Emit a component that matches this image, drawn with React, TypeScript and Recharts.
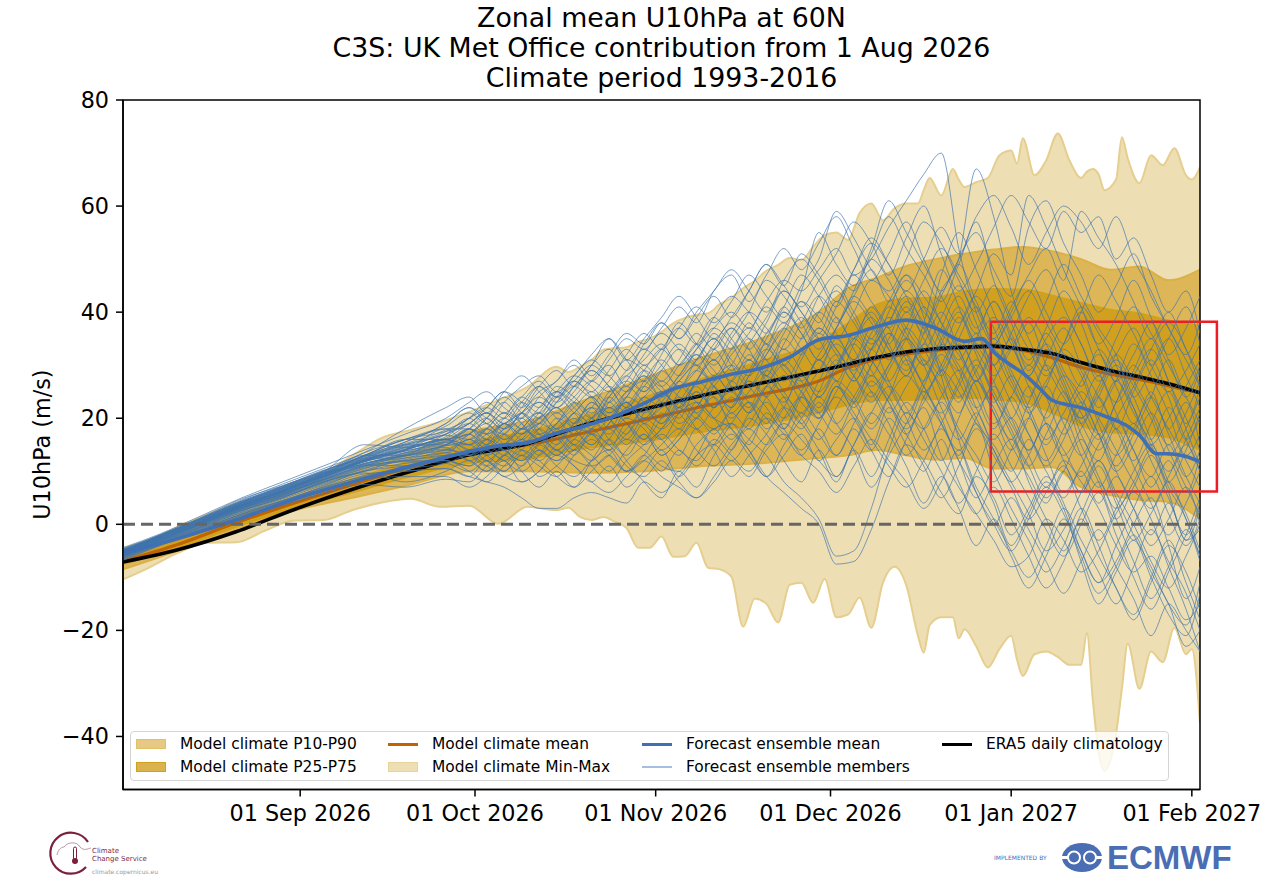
import { ComposedChart, Area, Line, XAxis, YAxis, ReferenceLine, ReferenceArea } from 'recharts';

// x values are days since 1 Aug 2026
const tickDays = [31, 61, 92, 122, 153, 184];
const tickLabels = ['01 Sep 2026', '01 Oct 2026', '01 Nov 2026', '01 Dec 2026', '01 Jan 2027', '01 Feb 2027'];
const yTicks = [-40, -20, 0, 20, 40, 60, 80];

const minMaxDays = [
  0.6, 5, 10, 15, 20, 25, 30, 35, 40, 45, 50, 55, 60, 65, 70, 75,
  77, 79, 81, 83, 85, 87, 89, 91, 93, 95, 97, 99, 101, 103, 105, 107, 109, 111, 113, 115, 117, 119, 121, 123, 125, 127, 129, 131, 133, 135,
  137, 138, 139, 141, 143, 144, 145, 147, 149, 151, 153, 154, 155, 157, 159, 161, 163, 165, 166, 167, 168, 169, 171, 172, 173, 175, 177, 179, 181, 183, 184, 185.4,
];
const climateMax = [
  -4.5, -3, -0.5, 1.8, 4, 5.3, 7.8, 9.7, 13, 16.3, 17.8, 19.3, 21.2, 23.4, 25.9, 29.7,
  28.7, 29.7, 31, 32.9, 33.2, 33.4, 34.4, 35, 36.3, 37.9, 38.9, 39.5, 39.8, 41.5, 42.7, 44.5, 45.9, 47.8, 48.9, 50.2, 49.8, 52.3, 54.5, 55, 53.6, 58.7, 60.5, 57.3, 59.6, 60.5,
  60.5, 63, 65.3, 62, 67, 65, 63.6, 64.5, 65.3, 69.6, 70.5, 68, 72.8, 65.8, 68.6, 73.7, 68.6, 65.3, 66.5, 67, 66, 63, 65, 73, 69, 64.3, 69.6, 67.7, 70.9, 65.8, 65, 67.3,
];
const climateMin = [
  -10.4, -8.2, -5.4, -3.5, -3.4, -1.2, 0.7, 0.8, 2.7, 4.1, 4.8, 3.3, 3.5, 0.1, 3.3, 2.7,
  3.1, 1.4, 0.8, 1.4, 0.5, -0.7, -4.4, -4.4, -2.3, -6.1, -6, -3.5, -8.2, -8.5, -9.9, -19.3, -14, -15, -18.5, -11.4, -11, -14.8, -10.3, -17.5, -17, -13.8, -19.5, -11, -8, -11.5,
  -21, -24.2, -19, -17.5, -17.5, -21.5, -19.8, -23, -27, -23.5, -21, -25.5, -28.6, -24.5, -24, -25, -26.5, -26.5, -20.5, -33, -43, -46.5, -39.5, -31, -22.5, -31, -24, -26, -19.5, -24.5, -23.5, -37.5,
];

const climateDays = [0.6, 10, 20, 30, 40, 50, 60, 70, 80, 90, 100, 110, 120, 125, 130, 135, 140, 145, 150, 155, 160, 165, 170, 175, 180, 185.4];
const p90 = [-5.5, -2, 2.3, 6.5, 10, 13.5, 17.5, 19.5, 23.5, 27.5, 31.5, 35, 40, 44.5, 46.5, 48.7, 50, 51, 51.8, 52.3, 51.5, 50, 48, 48.6, 46, 48];
const p10 = [-8.5, -5, -1, 2.6, 5, 7.5, 10, 10, 9.7, 10, 11, 11.5, 12.5, 13, 14, 13, 12.2, 12.5, 10.5, 10.5, 10.8, 7, 5.5, 4.6, 4.2, 1];
const p75 = [-6, -3, 1.5, 5, 8.5, 12, 15.5, 17.5, 20.5, 24, 27.5, 30.8, 34.5, 38, 41.5, 42.6, 42.8, 44, 44.4, 44.3, 43.2, 41.8, 40.5, 39.8, 38.5, 37.5];
const p25 = [-7.5, -4.5, -0.5, 3, 6, 9, 11.5, 12.3, 14.3, 15.6, 17.4, 18.8, 21, 22.5, 23.4, 23.4, 23.6, 23.8, 23.5, 23, 21, 18.5, 17.3, 17, 16.3, 14];
const climateMean = [-6.9, -3.8, 0.3, 4, 7.5, 10.8, 13.5, 15, 17.3, 19.7, 22.2, 24.5, 27, 29.5, 31.2, 32.1, 32.8, 33.2, 33.4, 32.8, 31.4, 29.6, 28.3, 27.3, 26.1, 24.8];
const era5 = [-7.1, -4.8, -1.4, 2.8, 6.6, 10, 13.1, 15.2, 18.8, 21.7, 24.3, 26.6, 28.9, 30.2, 31.5, 32.5, 33.1, 33.4, 33.6, 33, 32.2, 30.5, 29, 27.8, 26.5, 24.8];

const forecastDays = [0.6, 10, 20, 30, 40, 50, 60, 65, 70, 75, 80, 85, 90, 95, 100, 105, 110, 115, 120, 125, 130, 135, 140, 145, 148, 150, 153, 155, 158, 160, 165, 170, 173, 175, 178, 180, 183, 185.4];
const forecastMean = [-5.5, -2.7, 0.8, 4.7, 8, 11, 13.7, 14.8, 15.4, 17.2, 18.6, 20.4, 22.8, 25.5, 26.9, 28.3, 29.4, 31.5, 34.8, 35.6, 37.3, 38.5, 37, 34.5, 35, 32.5, 30, 28.5, 25.5, 23.4, 22, 20, 18.5, 16.8, 13.3, 13.3, 12.8, 11.8];

const memberDays = [
  0.6, 7, 14, 21, 28, 35, 42, 49, 56,
  60, 63, 66, 69, 72, 75, 78, 81, 84, 87, 90, 93, 96, 99, 102, 105, 108, 111, 114, 117, 120, 123, 126, 129, 132,
  135, 138, 141, 144, 147, 150, 153, 156, 159, 162, 165, 168, 171, 174, 177, 180, 183, 185.4,
];
const members = [
  [-5.2, -2.4, 0.6, 3.8, 6.5, 9.5, 13, 16, 18, 18, 17, 19, 21, 23, 21, 24, 27, 25, 28, 31, 34, 30, 33, 37, 40, 37, 42, 46, 44, 48, 52, 47, 50, 56, 61, 66, 70, 52, 40, 33, 26, 22, 27, 32, 28, 19, 13, 18, 24, 17, 9, 4],
  [-5.6, -3, 0, 3, 6, 8.5, 11, 12, 13, 13, 14, 12, 15, 16, 14, 12, 11, 13, 16, 14, 11, 10, 15, 18, 19, 16, 13, 8, 5, 1, -6, -5, 3, 14, 21, 18, 24, 29, 22, 16, 20, 13, 7, 12, 8, 3, -4, -9, -6, -12, -18, -15],
  [-6, -3.3, -0.4, 2.6, 5, 8, 10, 11.5, 12, 11, 13, 15, 14, 12, 15, 18, 17, 14, 17, 20, 18, 21, 23, 20, 18, 14, 9, 6, 3, 0, -7.5, -7, -1, 8, 15, 12, 6, 2, 9, 5, -2, 3, 9, 4, -5, -11, -7, 0, 5, -4, -14, -8],
  [-6.3, -3.6, -0.8, 2, 4.5, 7, 9.5, 10, 10.5, 9, 8, 7, 5, 3, 3, 5, 6, 5, 4, 8, 6, 9, 13, 15, 12, 16, 20, 17, 13, 19, 24, 20, 14, 9, 16, 22, 13, 7, 2, -3, -8, -6, 1, -3, -9, -5, 2, 6, 1, -8, -16, -24],
  [-5.8, -3.1, 0.2, 3.3, 5.8, 8.6, 11.5, 12.5, 14, 13, 11, 13, 16, 14, 12, 14, 17, 15, 11, 9, 12, 8, 5, 9, 14, 18, 15, 20, 24, 21, 17, 23, 28, 24, 19, 26, 32, 27, 20, 14, 8, 13, 19, 12, 6, 11, 4, -3, 2, 8, 1, -6],
  [-4.8, -2.1, 1, 4.2, 7, 9.9, 15, 14.5, 16, 17, 19, 16, 18, 22, 25, 23, 20, 24, 27, 25, 29, 33, 30, 27, 32, 36, 41, 38, 44, 55, 49, 45, 51, 58, 52, 47, 42, 49, 57, 46, 38, 31, 37, 44, 38, 29, 23, 28, 33, 27, 18, 11],
  [-5, -2.2, 0.9, 4, 6.8, 9.6, 12.5, 15, 17, 19, 21, 19, 22, 26, 24, 27, 30, 28, 32, 36, 33, 37, 41, 38, 42, 47, 43, 39, 45, 50, 59, 54, 48, 44, 50, 57, 53, 46, 40, 45, 39, 33, 28, 34, 41, 36, 30, 22, 15, 20, 26, 31],
  [-5.4, -2.7, 0.4, 3.5, 6.2, 9, 12, 14, 16, 15, 17, 20, 18, 20, 23, 26, 24, 27, 31, 29, 26, 30, 34, 39, 35, 31, 36, 41, 47, 43, 38, 44, 52, 61, 55, 49, 43, 38, 44, 51, 47, 62, 56, 48, 41, 34, 39, 46, 39, 32, 37, 43],
  [-5.1, -2.5, 0.5, 3.6, 6.4, 9.2, 13, 13, 15, 18, 16, 14, 17, 19, 22, 19, 22, 26, 23, 21, 24, 28, 32, 29, 25, 29, 34, 30, 27, 32, 37, 42, 38, 33, 29, 36, 44, 50, 67, 58, 44, 36, 42, 49, 43, 37, 32, 24, 29, 35, 28, 22],
  [-5.5, -2.8, 0.1, 3.1, 5.5, 8.2, 11, 13.5, 15.5, 14, 12, 15, 18, 16, 13, 16, 20, 22, 19, 16, 20, 24, 21, 18, 22, 27, 24, 20, 25, 31, 27, 23, 30, 36, 32, 26, 21, 27, 34, 30, 23, 17, 12, 18, 25, 20, 14, 8, 3, 9, 15, 10],
  [-5.9, -3.2, -0.2, 2.8, 5.3, 7.8, 10.5, 12.5, 13.5, 16, 14, 12, 10, 13, 17, 15, 12, 16, 20, 18, 14, 17, 22, 26, 21, 25, 29, 25, 20, 16, 22, 28, 33, 27, 20, 14, 19, 26, 31, 24, 18, 11, 17, 23, 15, 8, 1, 7, 13, 6, -3, -1],
  [-4.9, -2.3, 0.8, 3.9, 6.7, 9.4, 12, 14.5, 16.5, 20, 22, 20, 23, 21, 25, 28, 26, 23, 27, 32, 36, 33, 30, 34, 38, 35, 31, 36, 42, 39, 35, 40, 46, 43, 37, 33, 39, 45, 38, 30, 36, 43, 48, 41, 34, 28, 35, 41, 36, 30, 24, 19],
  [-5.3, -2.6, 0.3, 3.4, 6, 8.8, 11.5, 13, 14.5, 12, 14, 17, 15, 18, 16, 19, 22, 20, 17, 22, 19, 23, 27, 24, 20, 23, 18, 22, 28, 25, 30, 35, 40, 34, 28, 38, 48, 41, 32, 25, 19, 14, 21, 28, 24, 17, 10, 15, 21, 14, 7, 2],
  [-6.2, -3.5, -0.6, 2.3, 4.8, 7.4, 10, 11, 12.5, 14, 12, 10, 13, 11, 9, 13, 16, 13, 10, 13, 17, 14, 12, 16, 13, 10, 15, 19, 16, 12, 9, 15, 21, 26, 22, 16, 10, 4, 10, 17, 11, 5, -1, -6, 0, 6, -2, -10, -16, -9, -2, 5],
  [-5.7, -2.9, 0, 3.2, 5.7, 8.4, 11.2, 13.2, 15, 17, 15, 18, 20, 17, 19, 22, 25, 22, 25, 27, 24, 27, 31, 35, 31, 28, 33, 38, 35, 40, 44, 39, 34, 38, 44, 40, 36, 32, 27, 33, 27, 21, 26, 33, 29, 22, 27, 34, 28, 21, 13, 17],
  [-4.7, -2, 1.2, 4.4, 7.2, 10, 13.5, 16, 18.5, 21, 19, 23, 26, 28, 25, 28, 32, 35, 31, 35, 39, 43, 39, 35, 39, 44, 49, 45, 41, 46, 51, 57, 53, 47, 54, 60, 51, 44, 49, 56, 62, 57, 52, 59, 55, 58, 50, 54, 47, 40, 44, 36],
  [-5.5, -2.7, 0.2, 3.3, 5.9, 8.7, 11.8, 13.8, 15.8, 18, 20, 17, 15, 18, 21, 18, 15, 19, 23, 20, 23, 19, 22, 27, 30, 26, 22, 18, 24, 29, 34, 30, 25, 19, 13, 18, 23, 17, 11, 4, -4, 2, 8, 3, -7, -15, -9, -3, -10, -17, -21, -13],
  [-5.2, -2.5, 0.7, 3.7, 6.3, 9.1, 12.3, 14.2, 16.8, 16, 18, 21, 19, 16, 19, 23, 27, 30, 26, 30, 27, 31, 36, 33, 37, 33, 28, 34, 39, 35, 41, 47, 42, 37, 31, 25, 30, 37, 43, 37, 29, 24, 31, 37, 30, 24, 18, 12, 19, 25, 19, 26],
  [-6.1, -3.4, -0.5, 2.5, 5.1, 7.6, 10.2, 11.8, 11.5, 10, 12, 9, 11, 14, 11, 9, 12, 14, 10, 12, 15, 18, 14, 11, 15, 19, 23, 18, 14, 18, 13, 19, 25, 21, 26, 31, 25, 18, 13, 8, 14, 20, 13, 6, 11, 17, 10, 3, -4, 1, 7, 0],
  [-5, -2.4, 0.6, 3.7, 6.4, 9.3, 12.4, 14.8, 17, 19, 17, 20, 24, 22, 26, 24, 21, 25, 29, 33, 30, 26, 29, 33, 29, 34, 39, 44, 40, 36, 42, 38, 33, 40, 47, 43, 38, 31, 36, 28, 33, 39, 34, 27, 20, 25, 31, 26, 20, 13, 18, 24],
  [-5.6, -2.8, 0.1, 3, 5.6, 8.3, 11, 12.8, 14.2, 13, 15, 13, 16, 19, 17, 14, 18, 22, 19, 15, 18, 22, 26, 22, 27, 24, 29, 33, 29, 24, 29, 34, 29, 23, 17, 24, 29, 35, 28, 21, 15, 9, 4, 10, 3, -3, 3, 10, 15, 8, 2, -5],
  [-4.9, -2.2, 0.9, 4.1, 6.9, 9.8, 13, 15.5, 19, 22, 20, 18, 21, 25, 27, 31, 28, 32, 36, 34, 38, 35, 40, 44, 48, 44, 40, 46, 50, 46, 41, 48, 54, 49, 43, 37, 43, 50, 55, 48, 43, 56, 61, 53, 47, 40, 45, 51, 43, 37, 31, 26],
  [-5.8, -3, -0.1, 2.9, 5.4, 8, 10.8, 12.2, 13.5, 12, 10, 13, 11, 14, 12, 15, 13, 10, 14, 17, 13, 16, 20, 17, 21, 18, 24, 28, 23, 20, 25, 31, 26, 30, 35, 30, 22, 16, 21, 14, 8, 2, -5, -1, 6, 12, 5, -2, -8, -15, -19, -11],
  [-5.3, -2.5, 0.4, 3.4, 6.1, 8.9, 11.9, 14, 16, 15, 18, 16, 19, 21, 18, 21, 24, 21, 24, 28, 25, 23, 27, 31, 27, 32, 28, 25, 31, 36, 32, 27, 33, 39, 35, 30, 35, 41, 36, 39, 34, 28, 33, 26, 19, 24, 18, 25, 31, 24, 16, 20],
  [-5, -2.3, 0.7, 3.9, 6.6, 9.5, 12.7, 15, 17.5, 20, 22, 25, 23, 20, 24, 27, 25, 29, 33, 30, 33, 37, 34, 39, 43, 40, 36, 41, 37, 43, 47, 44, 50, 46, 40, 46, 52, 47, 41, 35, 41, 47, 52, 46, 59, 54, 49, 42, 35, 40, 33, 28],
  [-6.4, -3.7, -0.9, 1.9, 4.3, 6.8, 9.2, 10.5, 11.5, 13, 11, 9, 8, 10, 13, 11, 8, 6, 9, 12, 9, 7, 5, 8, 12, 9, 14, 17, 13, 10, 6, 11, 16, 12, 8, 3, 8, 14, 7, 1, -5, -10, -4, 3, -3, -9, -15, -8, -1, -7, -13, -20],
  [-5.4, -2.6, 0.5, 3.5, 6.1, 9, 12.1, 14.4, 15.4, 17, 14, 17, 20, 23, 20, 17, 20, 24, 21, 24, 27, 24, 21, 26, 30, 35, 31, 27, 32, 37, 33, 28, 23, 29, 35, 41, 35, 29, 22, 27, 33, 26, 20, 25, 17, 12, 18, 11, 4, -2, 4, 10],
  [-5.7, -2.9, 0.2, 3.2, 5.8, 8.5, 11.4, 12.9, 14.8, 16, 18, 15, 13, 16, 18, 15, 18, 15, 18, 22, 25, 21, 18, 22, 25, 21, 26, 22, 18, 23, 19, 24, 30, 36, 30, 34, 40, 33, 26, 19, 24, 30, 24, 17, 22, 28, 21, 14, 9, 15, 9, 14],
  [-5.1, -2.4, 0.6, 3.6, 6.3, 9.2, 12.2, 14.6, 16.2, 19, 21, 18, 21, 24, 22, 25, 29, 26, 22, 26, 30, 34, 31, 36, 33, 38, 34, 40, 36, 31, 37, 43, 48, 42, 46, 41, 34, 29, 35, 42, 36, 30, 36, 29, 23, 17, 23, 30, 24, 18, 12, 7],
  [-5.9, -3.1, -0.3, 2.7, 5.2, 7.9, 10.6, 12, 13, 14, 16, 14, 12, 15, 13, 16, 14, 18, 15, 19, 16, 13, 18, 15, 19, 23, 20, 16, 21, 17, 13, 18, 14, 20, 15, 10, 16, 8, 2, 7, 1, -6, -12, -7, 1, -6, -12, -18, -11, -4, -9, -16],
  [-5.2, -2.6, 0.4, 3.5, 6.2, 9, 12, 13.8, 15.6, 18, 16, 19, 17, 20, 24, 21, 18, 23, 26, 23, 20, 25, 29, 26, 23, 28, 32, 37, 33, 29, 35, 31, 37, 32, 37, 33, 28, 34, 29, 23, 28, 22, 16, 21, 27, 32, 26, 19, 25, 18, 23, 15],
  [-5.6, -2.8, 0.2, 3.1, 5.7, 8.4, 11.3, 13.4, 14.9, 15, 13, 15, 18, 21, 18, 20, 17, 20, 23, 20, 22, 26, 23, 20, 24, 21, 26, 31, 27, 22, 27, 24, 19, 24, 28, 24, 19, 14, 20, 26, 20, 14, 19, 14, 9, 15, 20, 14, 7, 12, 6, 13],
  [-4.8, -2.2, 0.9, 4, 6.9, 9.7, 12.8, 15.2, 17.8, 20, 23, 21, 24, 27, 24, 28, 31, 28, 25, 29, 33, 30, 34, 31, 36, 40, 37, 33, 38, 43, 39, 35, 41, 37, 42, 38, 33, 39, 34, 30, 35, 29, 35, 39, 34, 27, 32, 37, 30, 25, 29, 34],
  [-5.3, -2.5, 0.5, 3.6, 6.2, 9.1, 12.1, 14.1, 16.1, 14, 16, 19, 16, 19, 22, 19, 23, 20, 24, 22, 19, 23, 20, 25, 22, 27, 24, 28, 25, 21, 26, 22, 27, 23, 18, 23, 29, 25, 19, 15, 10, 16, 10, 5, 10, 4, 9, 3, -2, 4, -3, 3],
  [-4.4, -1.8, 1.6, 5, 8, 11, 14, 17, 20, 23, 25, 22, 20, 24, 27, 30, 27, 31, 35, 33, 37, 41, 38, 44, 47, 42, 47, 52, 48, 53, 58, 52, 46, 51, 57, 50, 44, 49, 42, 36, 42, 35, 29, 34, 40, 33, 27, 32, 38, 31, 24, 29],
  [-6.8, -4, -1.2, 1.4, 3.6, 5.8, 7.5, 7, 8.5, 8, 11, 14, 10, 7, 10, 7, 12, 16, 12, 8, 5, 10, 7, 13, 17, 13, 9, 15, 20, 24, 19, 14, 7, 13, 19, 25, 19, 12, 5, 11, 16, 8, 1, -5, 2, 8, 1, -7, -14, -8, -1, -7],
  [-5, -2, 1.2, 4.6, 7.6, 10.5, 13.5, 18, 22, 24, 21, 25, 28, 25, 22, 26, 30, 35, 31, 27, 32, 38, 34, 30, 35, 40, 46, 43, 38, 33, 39, 33, 28, 35, 41, 36, 47, 55, 48, 40, 33, 38, 30, 24, 20, 26, 32, 27, 21, 15, 21, 27],
  [-6.5, -3.8, -1, 1.6, 4, 6.5, 8.5, 9, 9, 7, 9, 12, 8, 10, 14, 11, 8, 11, 7, 10, 14, 9, 13, 18, 14, 20, 17, 12, 8, 14, 9, 15, 21, 17, 11, 4, 9, 3, -4, 1, -6, -12, -6, 1, -5, -11, -4, 3, 9, 2, -4, 1],
  [-5.1, -2.3, 1, 4.4, 7.2, 10.2, 12.5, 15.5, 19, 22, 19, 17, 21, 19, 23, 27, 24, 20, 24, 29, 26, 22, 27, 33, 37, 33, 38, 44, 40, 35, 30, 36, 31, 26, 21, 27, 34, 40, 33, 27, 20, 26, 19, 13, 18, 24, 30, 24, 16, 10, 16, 22],
  [-5.9, -3.1, 0, 2.6, 5, 8, 10, 12, 12, 11, 15, 18, 21, 17, 14, 18, 23, 20, 16, 21, 25, 22, 27, 31, 26, 22, 28, 24, 19, 25, 31, 27, 33, 38, 43, 37, 30, 24, 29, 35, 28, 21, 15, 20, 13, 7, 13, 19, 12, 5, -2, 4],
  [-5, -2.1, 1.1, 4.3, 7, 10, 13, 16, 17.5, 19, 22, 25, 22, 26, 29, 26, 30, 33, 29, 34, 38, 35, 39, 43, 39, 44, 49, 45, 51, 47, 42, 48, 53, 49, 44, 50, 56, 51, 58, 62, 56, 49, 55, 60, 57, 52, 58, 50, 44, 37, 32, 38],
  [-5.3, -2.6, 0.6, 3.7, 6.6, 9.4, 12, 13, 16, 13, 16, 14, 12, 15, 18, 21, 24, 21, 25, 28, 24, 28, 32, 28, 33, 37, 34, 30, 35, 40, 36, 31, 36, 42, 47, 39, 28, 16, 6, 0, -5, 1, 7, 2, -6, -13, -8, -2, -9, -15, -23, -20],
  [-6, -3.3, -0.5, 2.2, 4.5, 7, 9, 10, 10.5, 9, 12, 10, 13, 9, 11, 14, 11, 8, 12, 15, 18, 22, 18, 14, 9, 13, 17, 22, 19, 14, 8, 14, 9, 16, 23, 18, 12, 20, 27, 21, 14, 20, 26, 19, 13, 20, 27, 21, 15, 8, 14, 21],
  [-5.5, -2.7, 0.4, 3.6, 6.3, 9.6, 12.8, 15, 15, 18, 15, 19, 17, 20, 17, 21, 19, 23, 20, 24, 22, 27, 24, 28, 25, 31, 28, 35, 32, 37, 33, 29, 35, 31, 37, 44, 38, 33, 27, 33, 39, 44, 38, 32, 26, 33, 28, 22, 16, 22, 16, 10],
  [-4.6, -2, 1.3, 4.8, 7.3, 9.8, 11, 13, 14, 17, 20, 23, 19, 16, 20, 18, 15, 19, 23, 19, 23, 27, 30, 26, 22, 28, 33, 29, 25, 20, 26, 23, 18, 24, 31, 26, 20, 13, 19, 10, 3, -3, -9, -4, 3, -4, -12, -17, -10, -3, -11, -18],
  [-6.6, -3.9, -1.1, 1.7, 4.2, 7.2, 9.7, 8, 10, 12, 10, 13, 16, 13, 16, 13, 17, 14, 19, 16, 21, 18, 23, 20, 16, 21, 26, 30, 26, 31, 27, 34, 39, 33, 28, 34, 29, 23, 30, 24, 17, 11, 5, 10, 16, 9, 3, 8, 14, 7, 1, -6],
  [-5.2, -2.4, 0.7, 4, 6.8, 9, 11.8, 14, 18, 15, 18, 21, 18, 21, 25, 22, 19, 24, 28, 25, 29, 26, 31, 35, 30, 26, 32, 37, 42, 38, 45, 40, 35, 41, 36, 30, 37, 43, 37, 42, 35, 28, 34, 28, 21, 16, 23, 29, 35, 27, 20, 14],
  [-5.7, -3, 0.1, 3, 5.4, 8.8, 11.2, 11, 13, 16, 13, 11, 14, 17, 14, 17, 20, 16, 13, 17, 13, 16, 20, 24, 18, 14, 9, 13, 17, 12, 16, 20, 15, 22, 17, 11, 5, 11, 18, 13, 7, 1, 6, 11, 6, 12, 6, 0, -7, -12, -6, 0],
  [-5.6, -2.9, 0.3, 3.4, 6.2, 9.4, 12.3, 14, 17, 20, 17, 15, 18, 16, 19, 23, 20, 17, 22, 26, 23, 20, 25, 22, 27, 31, 27, 23, 28, 24, 30, 35, 31, 27, 32, 27, 34, 30, 24, 18, 24, 17, 11, 16, 23, 17, 11, 17, 24, 31, 25, 30],
  [-4.9, -2.1, 1, 4.2, 7.2, 10.1, 12.9, 16, 16, 18, 21, 19, 23, 26, 23, 26, 29, 26, 22, 27, 31, 28, 33, 37, 34, 29, 35, 40, 36, 31, 37, 43, 39, 34, 40, 35, 29, 35, 41, 34, 40, 46, 40, 34, 40, 47, 42, 36, 30, 35, 41, 34],
  [-6.2, -3.5, -0.7, 1.9, 4.4, 6.7, 8.8, 10.3, 12, 10, 8, 11, 14, 12, 9, 7, 10, 13, 10, 13, 10, 14, 11, 15, 19, 15, 21, 18, 24, 20, 26, 21, 16, 11, 7, 12, 18, 12, 6, 0, 5, -1, -7, -13, -7, -1, -8, -14, -21, -15, -20, -24],
  [-5.4, -2.6, 0.5, 3.5, 6.4, 9.2, 11.8, 13.5, 15, 17, 20, 24, 21, 18, 15, 19, 22, 18, 22, 19, 16, 21, 25, 22, 26, 23, 19, 24, 21, 27, 32, 28, 24, 30, 35, 31, 26, 21, 27, 22, 16, 23, 30, 25, 19, 14, 20, 26, 33, 38, 33, 26],
];

// one table for the whole chart, series only fill the rows of their own days
type Row = { [key: string]: number | number[] };
const rowsByDay = new Map<number, Row>();
function put(days: number[], key: string, values: (number | number[])[]) {
  days.forEach((day, i) => {
    if (!rowsByDay.has(day)) rowsByDay.set(day, { day });
    rowsByDay.get(day)![key] = values[i];
  });
}
put(minMaxDays, 'minMax', minMaxDays.map((_, i) => [climateMin[i], climateMax[i]]));
put(climateDays, 'p10p90', climateDays.map((_, i) => [p10[i], p90[i]]));
put(climateDays, 'p25p75', climateDays.map((_, i) => [p25[i], p75[i]]));
put(climateDays, 'climateMean', climateMean);
put(climateDays, 'era5', era5);
put(forecastDays, 'forecastMean', forecastMean);
members.forEach((values, m) => put(memberDays, `m${m}`, values));
const chartData = [...rowsByDay.values()].sort((a, b) => (a.day as number) - (b.day as number));

const FONT = '"DejaVu Sans", sans-serif';

function LegendEntry({ x, y, label, swatch, line, lineWidth = 3 }: { x: number; y: number; label: string; swatch?: [string, string]; line?: string; lineWidth?: number }) {
  return (
    <>
      {swatch ? (
        <div style={{ position: 'absolute', left: x, top: y - 5, width: 30, height: 10, background: swatch[0], border: `1.5px solid ${swatch[1]}`, boxSizing: 'border-box' }} />
      ) : (
        <div style={{ position: 'absolute', left: x, top: y - lineWidth / 2, width: 30, height: lineWidth, background: line }} />
      )}
      <div style={{ position: 'absolute', left: x + 44, top: y - 10, lineHeight: '20px', fontSize: 15.45, whiteSpace: 'nowrap' }}>{label}</div>
    </>
  );
}

export default function App() {
  return (
    <div style={{ position: 'absolute', left: 0, top: 0, width: 1282, height: 884, background: '#fff', fontFamily: FONT, color: '#000', overflow: 'hidden' }}>
      <div style={{ position: 'absolute', left: 0, top: 3, width: 1323, textAlign: 'center', fontSize: 26.8, lineHeight: '30px' }}>
        <div>Zonal mean U10hPa at 60N</div>
        <div>C3S: UK Met Office contribution from 1 Aug 2026</div>
        <div>Climate period 1993-2016</div>
      </div>

      <ComposedChart width={1282} height={884} data={chartData} margin={{ top: 100, right: 82, bottom: 44.5, left: 63 }} style={{ position: 'absolute', left: 0, top: 0 }}>
        <XAxis dataKey="day" type="number" domain={[0.6, 185.4]} allowDataOverflow ticks={tickDays} interval={0} height={50}
          tickFormatter={(d: number) => tickLabels[tickDays.indexOf(d)]} tick={{ fontSize: 22.3, fill: '#000', fontFamily: FONT }}
          tickLine={{ stroke: '#000', strokeWidth: 1.5 }} tickSize={7} tickMargin={9} axisLine={{ stroke: '#000', strokeWidth: 1.5 }} />
        <YAxis type="number" domain={[-50, 80]} allowDataOverflow ticks={yTicks} interval={0} width={60}
          tickFormatter={(v: number) => String(v).replace('-', '\u2212')} tick={{ fontSize: 22.3, fill: '#000', fontFamily: FONT }}
          tickLine={{ stroke: '#000', strokeWidth: 1.5 }} tickSize={7} tickMargin={7} axisLine={{ stroke: '#000', strokeWidth: 1.5 }}
          label={{ value: 'U10hPa (m/s)', angle: -90, position: 'insideLeft', offset: -21, dy: 75, style: { fontSize: 22.3, fill: '#000', fontFamily: FONT } }} />

        <Area dataKey="minMax" type="monotone" connectNulls fill="#EEDEB3" fillOpacity={1} stroke="#E5CE8E" strokeWidth={2} dot={false} activeDot={false} isAnimationActive={false} />
        <Area dataKey="p10p90" type="monotone" connectNulls fill="#DDB658" fillOpacity={1} stroke="#DBB045" strokeWidth={2} dot={false} activeDot={false} isAnimationActive={false} />
        <Area dataKey="p25p75" type="monotone" connectNulls fill="#D1A01E" fillOpacity={1} stroke="#D1A01E" strokeWidth={1.5} dot={false} activeDot={false} isAnimationActive={false} />
        <Line dataKey="climateMean" type="monotone" connectNulls stroke="#BF6400" strokeWidth={3.2} dot={false} activeDot={false} isAnimationActive={false} />
        <Line dataKey="era5" type="monotone" connectNulls stroke="#000" strokeWidth={3.6} dot={false} activeDot={false} isAnimationActive={false} />
        {members.map((_, m) => (
          <Line key={m} dataKey={`m${m}`} type="monotone" connectNulls stroke="#3F74AC" strokeOpacity={0.68} strokeWidth={1} dot={false} activeDot={false} isAnimationActive={false} />
        ))}
        <Line dataKey="forecastMean" type="monotone" connectNulls stroke="#3F6FB5" strokeWidth={3.6} dot={false} activeDot={false} isAnimationActive={false} />
        <ReferenceLine y={0} stroke="#666" strokeWidth={3} strokeDasharray="12 6" />
        <ReferenceArea x1={0.6} x2={185.4} y1={-50} y2={80} fill="none" stroke="#000" strokeWidth={1.5} ifOverflow="visible" />
        <ReferenceArea x1={149.5} x2={188.3} y1={6.2} y2={38.2} fill="none" fillOpacity={0} stroke="#EE1C25" strokeWidth={2.5} ifOverflow="visible" />
      </ComposedChart>

      <div style={{ position: 'absolute', left: 130, top: 731, width: 1039, height: 50, background: 'rgba(255,255,255,0.8)', border: '1.5px solid #d5d5d5', borderRadius: 4, boxSizing: 'border-box' }} />
      <LegendEntry x={136} y={744} label="Model climate P10-P90" swatch={['#E6CA84', '#E2C06A']} />
      <LegendEntry x={136} y={767} label="Model climate P25-P75" swatch={['#DAB24E', '#D1A01E']} />
      <LegendEntry x={388} y={744} label="Model climate mean" line="#BF6400" />
      <LegendEntry x={388} y={767} label="Model climate Min-Max" swatch={['#EEDEB3', '#E9D49C']} />
      <LegendEntry x={642} y={744} label="Forecast ensemble mean" line="#3F6FB5" />
      <LegendEntry x={642} y={767} label="Forecast ensemble members" line="#A6BFE0" lineWidth={1.5} />
      <LegendEntry x={942} y={744} label="ERA5 daily climatology" line="#000" />

      <svg width={1282} height={884} style={{ position: 'absolute', left: 0, top: 0 }}>
        <path d="M 88 842 A 20.5 20.5 0 1 0 86 867" fill="none" stroke="#7B1F3A" strokeWidth={2.2} />
        <path d="M 57 855 C 58 850 61 847 64 847 C 67 842 77 841 80 847 C 84 851 87 849 91 848" fill="none" stroke="#A87F8E" strokeWidth={0.8} />
        <circle cx={75} cy={861} r={3} fill="#7B1F3A" />
        <rect x={73.5} y={847} width={3} height={13} rx={1.5} fill="none" stroke="#7B1F3A" strokeWidth={1} />
        <text x={92} y={852.5} fontSize={7} fill="#7B2B45" fontFamily={FONT}>Climate</text>
        <text x={92} y={861} fontSize={7} fill="#7B2B45" fontFamily={FONT}>Change Service</text>
        <text x={92} y={874} fontSize={6} fill="#999" fontFamily={FONT}>climate.copernicus.eu</text>
        <text x={994} y={860} fontSize={6} fill="#4A6DB3" fontFamily={FONT}>IMPLEMENTED BY</text>
        <ellipse cx={1082} cy={857.5} rx={20} ry={14.5} fill="#4A6DB3" />
        <circle cx={1074} cy={857.5} r={6} fill="none" stroke="#fff" strokeWidth={2} />
        <circle cx={1090} cy={857.5} r={6} fill="none" stroke="#fff" strokeWidth={2} />
        <rect x={1061} y={856} width={8} height={3} fill="#fff" />
        <rect x={1095} y={856} width={8} height={3} fill="#fff" />
        <text x={1107} y={869} fontSize={33} fontWeight="bold" fill="#4A6DB3" fontFamily='"Liberation Sans", sans-serif'>ECMWF</text>
      </svg>
    </div>
  );
}
